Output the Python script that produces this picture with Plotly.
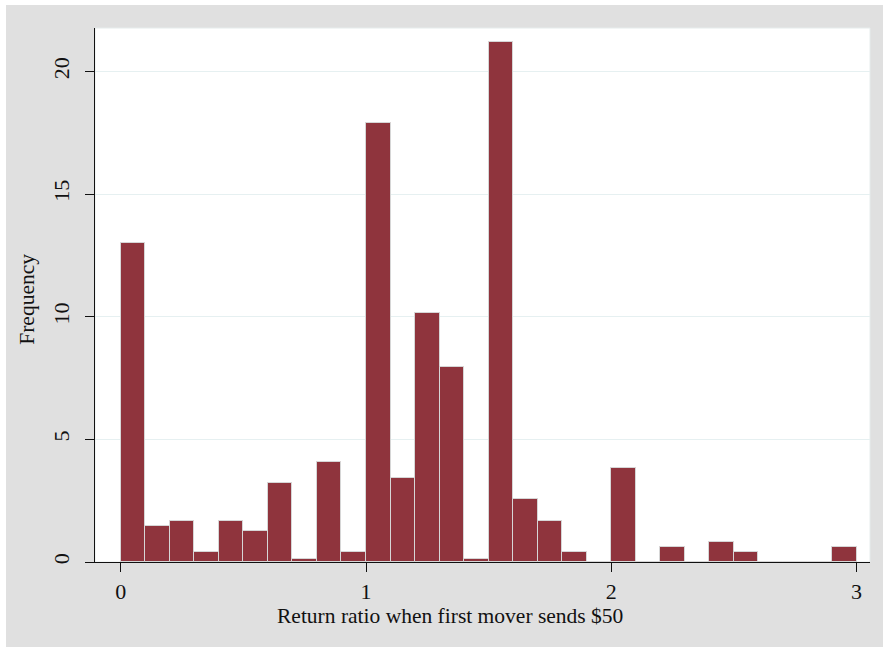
import plotly.graph_objects as go

# Histogram bins (left edges) and frequencies
bin_left = [0.0, 0.1, 0.2, 0.3, 0.4, 0.5, 0.6, 0.7, 0.8, 0.9,
            1.0, 1.1, 1.2, 1.3, 1.4, 1.5, 1.6, 1.7, 1.8, 1.9,
            2.0, 2.1, 2.2, 2.3, 2.4, 2.5, 2.6, 2.7, 2.8, 2.9]
frequency = [13.0, 1.45, 1.68, 0.39, 1.68, 1.27, 3.21, 0.14, 4.09, 0.39,
             17.89, 3.44, 10.15, 7.97, 0.14, 21.19, 2.56, 1.68, 0.39, 0.0,
             3.85, 0.0, 0.63, 0.0, 0.80, 0.39, 0.0, 0.0, 0.0, 0.63]
bin_width = 0.1

x_ticks = [0, 1, 2, 3]
y_ticks = [0, 5, 10, 15, 20]

x_title = "Return ratio when first mover sends $50"
y_title = "Frequency"

FONT = "Liberation Serif"
BAR = "#8f343d"
TXT = "#111111"

fig = go.Figure()
fig.add_trace(go.Bar(
    x=bin_left, y=frequency, width=bin_width, offset=0,
    marker=dict(color=BAR, line=dict(color="#d6d6d6", width=1)),
    hoverinfo="x+y",
))

W, H = 883, 647
L, R, T, B = 95, 13, 28, 84.5
pw, ph = W - L - R, H - T - B

def px(xp):
    return (xp - L) / pw

def py(yp):
    return (H - B - yp) / ph

fig.update_layout(
    width=W, height=H,
    margin=dict(l=L, r=R, t=T, b=B, pad=0),
    paper_bgcolor="white",
    plot_bgcolor="rgba(0,0,0,0)",
    showlegend=False,
    bargap=0,
    font=dict(family=FONT, size=21.5, color=TXT),
    shapes=[
        dict(type="rect", xref="paper", yref="paper", layer="below",
             x0=px(6), x1=px(W + 5), y0=py(H + 5), y1=py(5),
             fillcolor="#e0e0e0", line=dict(width=0)),
        dict(type="rect", xref="paper", yref="paper", layer="below",
             x0=0, x1=1, y0=0, y1=1,
             fillcolor="white", line=dict(color="#e6ecec", width=1)),
    ],
    annotations=[
        dict(text=x_title, xref="paper", yref="paper",
             x=px(449.5), y=py(617), xanchor="center", yanchor="middle",
             showarrow=False, font=dict(family=FONT, size=21.5, color=TXT)),
        dict(text=y_title, xref="paper", yref="paper",
             x=px(27), y=py(300), xanchor="center", yanchor="middle",
             textangle=-90, showarrow=False,
             font=dict(family=FONT, size=21.5, color=TXT)),
    ],
)

fig.update_xaxes(
    range=[(L - 120.7) / 245.3, (W - R - 120.7) / 245.3],
    tickvals=x_ticks, ticktext=[str(v) for v in x_ticks],
    ticks="outside", ticklen=9, tickwidth=1.2, tickcolor=TXT,
    showline=True, linecolor=TXT, linewidth=1.2,
    showgrid=False, zeroline=False,
    tickfont=dict(family=FONT, size=22, color=TXT),
)
fig.update_yaxes(
    range=[0, (H - B - T) / 24.55],
    tickvals=y_ticks, ticktext=[str(v) for v in y_ticks],
    tickangle=-90, ticklabelstandoff=7,
    ticks="outside", ticklen=9, tickwidth=1.2, tickcolor=TXT,
    showline=True, linecolor=TXT, linewidth=1.2,
    showgrid=True, gridcolor="#e6f0f1", gridwidth=1,
    zeroline=False,
    tickfont=dict(family=FONT, size=22, color=TXT),
)

fig.write_html("out.html",
               config={"displayModeBar": False},
               post_script="document.body.style.margin='0';document.body.style.padding='0';")
